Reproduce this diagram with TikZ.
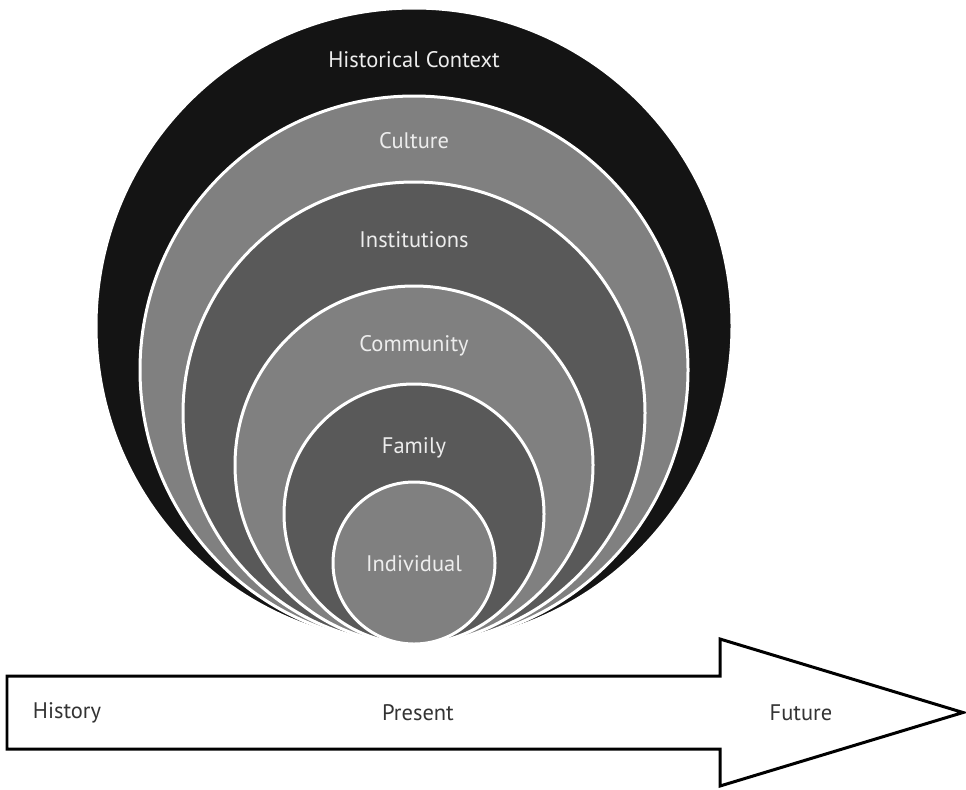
\documentclass[tikz,border=0pt]{standalone}
\usepackage{fontspec}
\setmainfont{PT Sans}
\definecolor{ringblack}{gray}{0.08}
\definecolor{ringlight}{gray}{0.5}
\definecolor{ringdark}{gray}{0.35}
\definecolor{labelgray}{gray}{0.2}
\begin{document}
\begin{tikzpicture}[x=0.02cm, y=-0.02cm]
    \tikzset{
        ringlabel/.style={text=white!93!black, font=\fontsize{12.8}{15}\selectfont},
        timelabel/.style={text=labelgray, font=\fontsize{12.8}{15}\selectfont}
    }
    % Picture area (pixel grid of the reference, y pointing down)
    \useasboundingbox (0,0) rectangle (966,789);

    % Nested circles, all touching at the bottom point (414,644)
    \foreach \r/\col in {318/ringblack, 274/ringlight, 231/ringdark,
                         179/ringlight, 130/ringdark, 81/ringlight} {
        \filldraw[fill=\col, draw=white, line width=0.06cm]
            (414,644-\r) circle (\r);
    }

    % Ring labels
    \node[ringlabel] (hist ctx) at (414,60)  {Historical Context};
    \node[ringlabel] (culture)  at (414,141) {Culture};
    \node[ringlabel] (inst)     at (414,240) {Institutions};
    \node[ringlabel] (comm)     at (414,346) {Community};
    \node[ringlabel] (family)   at (414,448) {Family};
    \node[ringlabel] (indiv)    at (414,564) {Individual};

    % Time arrow
    \draw[line width=0.06cm, fill=white, line join=miter]
        (7,676) -- (720,676) -- (720,639) -- (963,712.5)
        -- (720,786) -- (720,749) -- (7,749) -- cycle;
    \node[timelabel] (history) at (67,713)  {History};
    \node[timelabel] (present) at (418,713) {Present};
    \node[timelabel] (future)  at (801,713) {Future};
\end{tikzpicture}
\end{document}
